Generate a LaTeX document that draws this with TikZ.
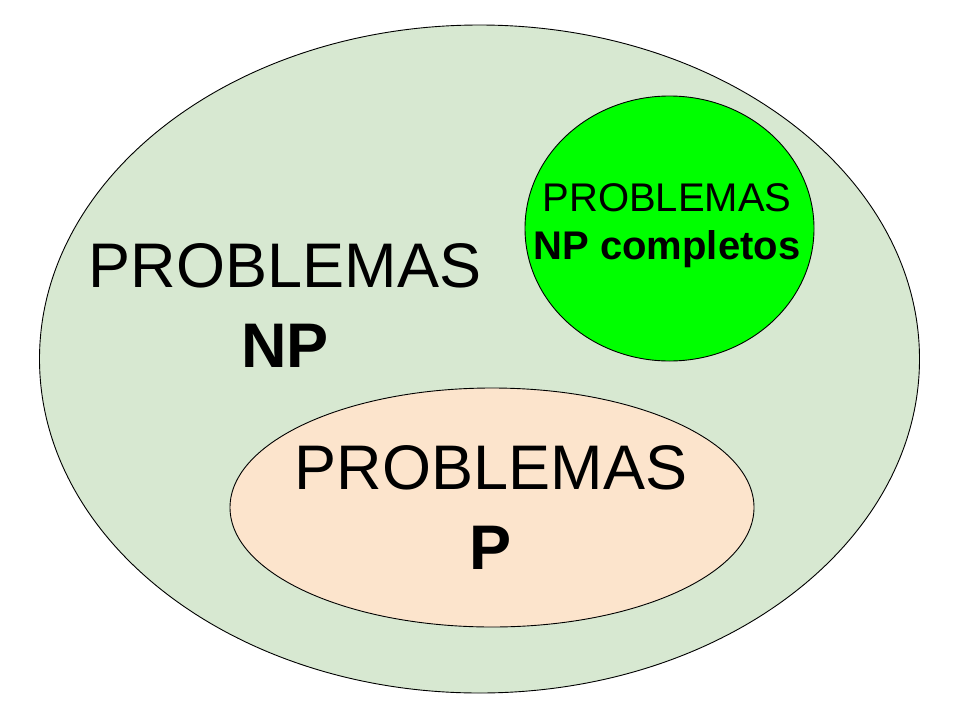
\documentclass[tikz,border=0pt]{standalone}
\usepackage{fontspec}
\setmainfont{Liberation Sans}
\usetikzlibrary{shapes.geometric}
\definecolor{npfill}{HTML}{D7E8D1}
\definecolor{npcfill}{HTML}{00FF00}
\definecolor{pfill}{HTML}{FCE4CC}
\tikzset{
  setbox/.style={ellipse, draw=black, line width=0.9pt, inner sep=0pt},
  bigtext/.style={align=center, font=\fontsize{63}{80}\selectfont, inner sep=0pt},
  smalltext/.style={align=center, font=\fontsize{40}{48}\selectfont, inner sep=0pt}
}
\begin{document}
\begin{tikzpicture}[x=1pt,y=-1pt]
\useasboundingbox (0,0) rectangle (960,720);
\fill[white] (0,0) rectangle (960,720);
\node[setbox, fill=npfill, minimum width=880pt, minimum height=668pt] (np) at (479.5,359) {};
\node[setbox, fill=npcfill, minimum width=289pt, minimum height=265pt] (npc) at (669.5,228.5) {};
\node[setbox, fill=pfill, minimum width=524pt, minimum height=239pt] (p) at (492,507.5) {};
\node[bigtext] (nptext) at (285,305) {PROBLEMAS\\\textbf{NP}};
\node[smalltext] (npctext) at (667,226) {PROBLEMAS\\\textbf{NP completos}};
\node[bigtext] (ptext) at (491,507) {PROBLEMAS\\\textbf{P}};
\end{tikzpicture}
\end{document}
